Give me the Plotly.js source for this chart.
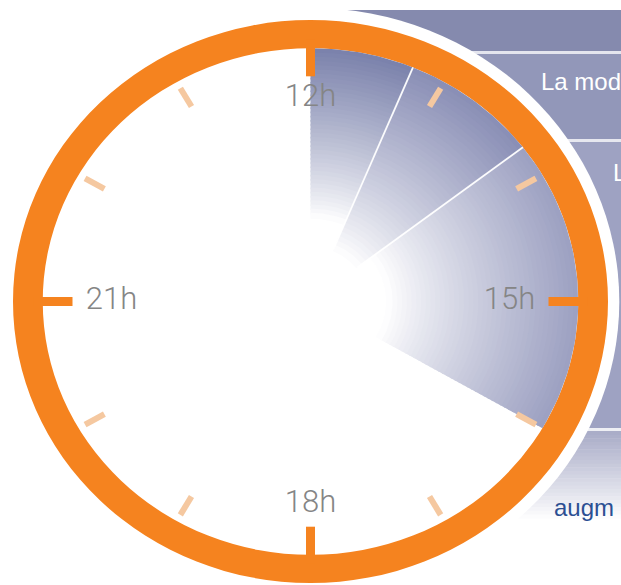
<!DOCTYPE html>
<html>
<head>
<meta charset="utf-8">
<script src="https://cdn.plot.ly/plotly-3.0.1.min.js"></script>
<style>html,body{margin:0;padding:0;background:#fff;}#chart{width:621px;height:585px;}</style>
</head>
<body>
<div id="chart"></div>
<script>
// ---- data ----
const sectorStart = [12, 12.75, 13.75];   // hours
const sectorEnd   = [12.75, 13.75, 16];
const majorTickHours = [12, 15, 18, 21];
const minorTickHours = [13, 14, 16, 17, 19, 20, 22, 23];
const hourLabels = ['12h', '15h', '18h', '21h'];
const labelHours = [12, 15, 18, 21];
const panelTexts = ['La mod', 'L', 'augm'];

// ---- style ----
const W = 621, H = 585;
const ORANGE = '#f5831f';
const sectorRim = [[122,129,171],[137,142,181],[156,160,193]];
const sectorFade = [0.30, 0.20, 0.26];
const R_IN = 0.9;

function pt(hour, r) {
  const a = (hour - 12) / 12 * 2 * Math.PI;
  return [r * Math.sin(a), r * Math.cos(a)];
}
function mix(c, t) {
  const v = c.map(x => Math.round(255 + (x - 255) * t));
  return 'rgb(' + v.join(',') + ')';
}
const px = x => x / W;
const py = y => 1 - y / H;

const traces = [];
// gradient sectors as annular bands (outer first, slight inward overlap)
const NB = 40;
sectorStart.forEach((s, i) => {
  const e = sectorEnd[i];
  const r0 = sectorFade[i];
  const dr = (R_IN - r0) / NB;
  for (let k = 0; k < NB; k++) {
    const ro = R_IN - k * dr;
    const ri = Math.max(0, ro - dr - 0.006);
    let t = (ro - dr / 2 - r0) / (R_IN - r0);
    t = Math.pow(Math.max(0, Math.min(1, t)), 0.85);
    const xs = [], ys = [];
    const steps = 40;
    for (let j = 0; j <= steps; j++) {
      const p = pt(s + (e - s) * j / steps, ro);
      xs.push(p[0]); ys.push(p[1]);
    }
    for (let j = steps; j >= 0; j--) {
      const p = pt(s + (e - s) * j / steps, ri);
      xs.push(p[0]); ys.push(p[1]);
    }
    xs.push(xs[0]); ys.push(ys[0]);
    const col = mix(sectorRim[i], t);
    traces.push({type: 'scatter', mode: 'lines', x: xs, y: ys, fill: 'toself',
      fillcolor: col, line: {width: 0}, hoverinfo: 'skip', showlegend: false});
  }
});
// white separators between sectors
sectorEnd.slice(0, 2).forEach(h => {
  const a = pt(h, 0.2), b = pt(h, R_IN);
  traces.push({type: 'scatter', mode: 'lines', x: [a[0], b[0]], y: [a[1], b[1]],
    line: {color: 'rgba(255,255,255,0.95)', width: 1.8}, hoverinfo: 'skip', showlegend: false});
});
// minor ticks
{
  const xs = [], ys = [];
  minorTickHours.forEach(h => {
    const a = pt(h, 0.80), b = pt(h, 0.875);
    xs.push(a[0], b[0], null); ys.push(a[1], b[1], null);
  });
  traces.push({type: 'scatter', mode: 'lines', x: xs, y: ys,
    line: {color: '#f5c8a0', width: 6}, hoverinfo: 'skip', showlegend: false});
}
// major ticks
{
  const xs = [], ys = [];
  majorTickHours.forEach(h => {
    const a = pt(h, 0.80), b = pt(h, 0.93);
    xs.push(a[0], b[0], null); ys.push(a[1], b[1], null);
  });
  traces.push({type: 'scatter', mode: 'lines', x: xs, y: ys,
    line: {color: ORANGE, width: 9}, hoverinfo: 'skip', showlegend: false});
}
// hour labels
{
  const lx = 199 / 297.5, ly = 203 / 281.5;
  const xs = [], ys = [];
  labelHours.forEach(h => {
    const a = (h - 12) / 12 * 2 * Math.PI;
    xs.push(lx * Math.sin(a)); ys.push(ly * Math.cos(a));
  });
  traces.push({type: 'scatter', mode: 'text', x: xs, y: ys, text: hourLabels,
    textposition: 'middle center',
    textfont: {family: 'Roboto, "Liberation Sans", sans-serif', size: 31, color: '#858585', weight: 300},
    hoverinfo: 'skip', showlegend: false, cliponaxis: false});
}

// ---- shapes: panels + clock ----
const shapes = [];
function prect(x0, y0, x1, y1, color) {
  shapes.push({type: 'rect', xref: 'paper', yref: 'paper', layer: 'below',
    x0: px(x0), x1: px(x1), y0: py(y1), y1: py(y0), fillcolor: color, line: {width: 0}});
}
prect(300, 10, 640, 51, '#858aae');
prect(300, 51, 640, 54, '#e4e5ee');
prect(300, 54, 640, 139, '#9297b9');
prect(300, 139, 640, 142, '#e6e7ef');
prect(300, 142, 640, 428, '#9ea2c2');
prect(300, 428, 640, 431, '#eeeff4');
{
  const N = 24, y0 = 431, y1 = 518;
  for (let k = 0; k < N; k++) {
    const ya = y0 + (y1 - y0) * k / N, yb = y0 + (y1 - y0) * (k + 1) / N;
    const t = Math.pow(1 - (k + 0.5) / N, 0.9);
    prect(300, ya, 640, yb + 0.5, mix([168,171,199], t));
  }
}
function ell(rx, ry, color) {
  shapes.push({type: 'circle', xref: 'x', yref: 'y', layer: 'below',
    x0: -rx, x1: rx, y0: -ry, y1: ry, fillcolor: color, line: {width: 0}});
}
ell(1.038, 1.043, '#ffffff');
ell(1.0, 1.0, ORANGE);
ell(R_IN, R_IN, '#ffffff');

const annotations = [
  {text: panelTexts[0], x: px(539), y: py(82), xref: 'paper', yref: 'paper', xanchor: 'left', yanchor: 'middle',
   showarrow: false, font: {family: '"Liberation Sans", Arial, sans-serif', size: 24, color: '#ffffff'}},
  {text: panelTexts[1], x: px(611), y: py(172), xref: 'paper', yref: 'paper', xanchor: 'left', yanchor: 'middle',
   showarrow: false, font: {family: '"Liberation Sans", Arial, sans-serif', size: 24, color: '#ffffff'}},
  {text: panelTexts[2], x: px(552), y: py(507), xref: 'paper', yref: 'paper', xanchor: 'left', yanchor: 'middle',
   showarrow: false, font: {family: '"Liberation Sans", Arial, sans-serif', size: 24, color: '#2c4f93'}}
];

const layout = {
  width: W, height: H,
  margin: {l: 0, r: 0, t: 0, b: 0},
  paper_bgcolor: '#ffffff', plot_bgcolor: 'rgba(0,0,0,0)',
  xaxis: {range: [-1.0437, 1.0437], visible: false, fixedrange: true},
  yaxis: {range: [-1.0071, 1.0711], visible: false, fixedrange: true},
  shapes: shapes, annotations: annotations, showlegend: false
};
Plotly.newPlot('chart', traces, layout, {staticPlot: true, displayModeBar: false});
</script>
</body>
</html>
